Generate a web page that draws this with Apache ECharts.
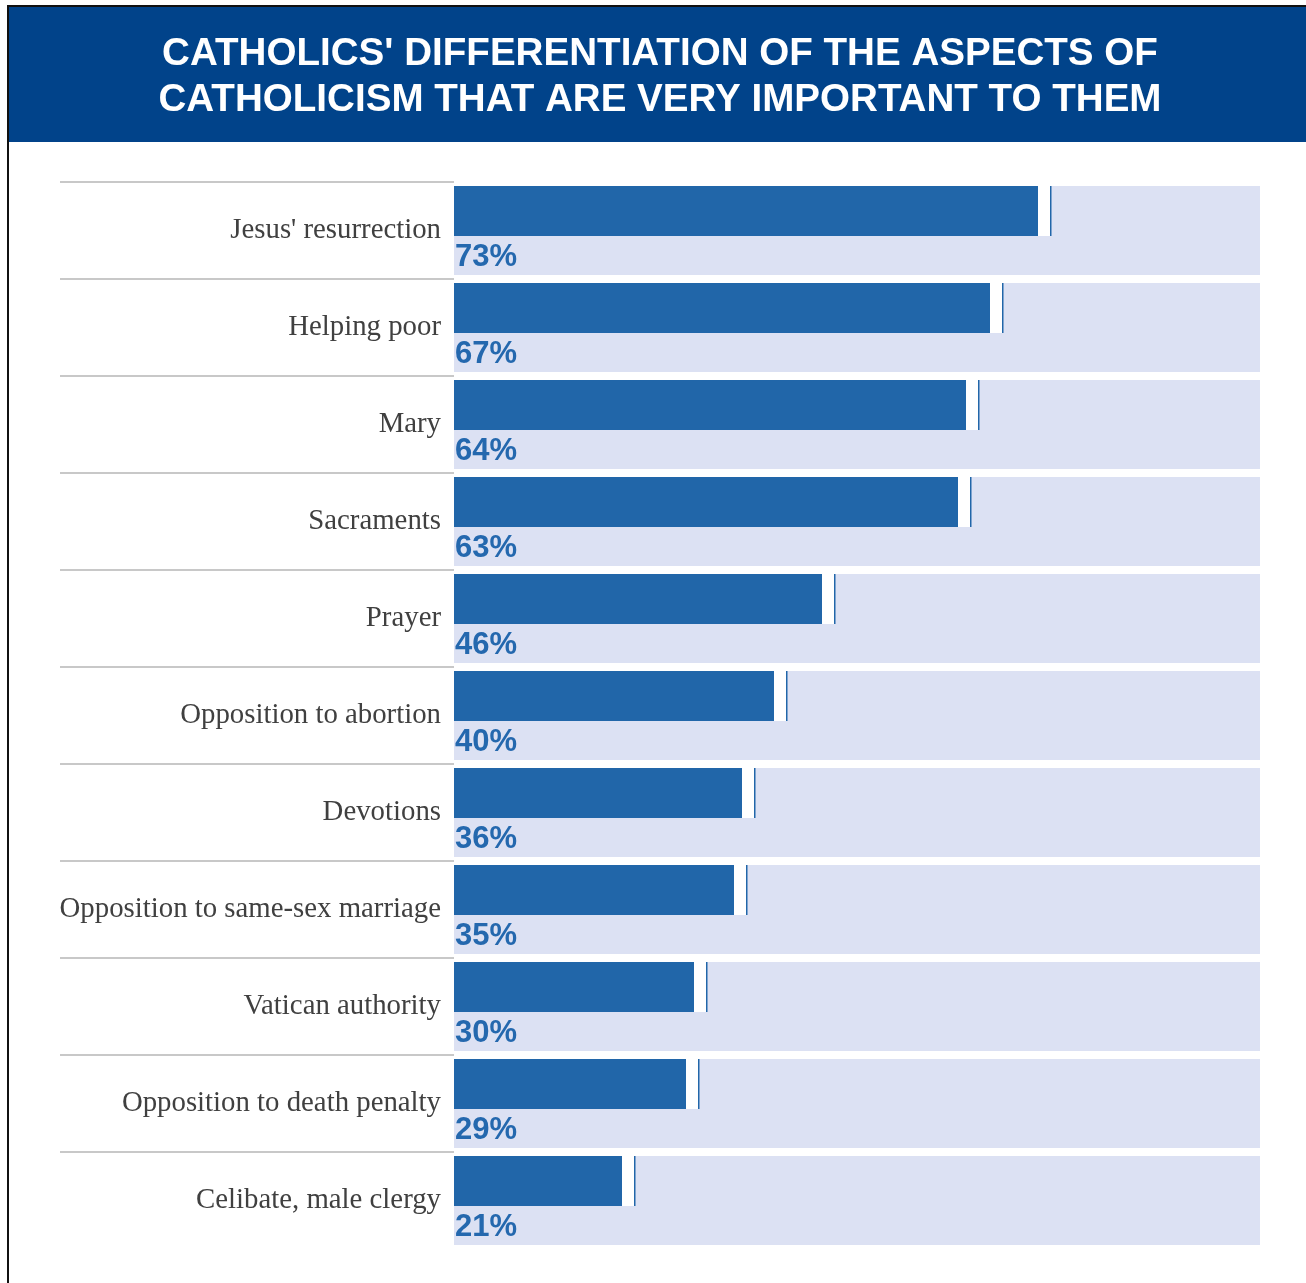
<!DOCTYPE html>
<html>
<head>
<meta charset="utf-8">
<script src="https://cdn.jsdelivr.net/npm/echarts@6/dist/echarts.min.js"></script>
<style>
  html, body { margin: 0; padding: 0; background: #ffffff; }
  #chart { width: 1306px; height: 1283px; }
</style>
</head>
<body>
<div id="chart"></div>
<script>
const titleLines = [
  "CATHOLICS' DIFFERENTIATION OF THE ASPECTS OF",
  "CATHOLICISM THAT ARE VERY IMPORTANT TO THEM"
];
const categories = [
  "Jesus' resurrection",
  "Helping poor",
  "Mary",
  "Sacraments",
  "Prayer",
  "Opposition to abortion",
  "Devotions",
  "Opposition to same-sex marriage",
  "Vatican authority",
  "Opposition to death penalty",
  "Celibate, male clergy"
];
const values = [73, 67, 64, 63, 46, 40, 36, 35, 30, 29, 21];

const DARK = '#2166a9';
const LIGHT = '#dce1f3';

const chart = echarts.init(document.getElementById('chart'), null, { renderer: 'canvas' });

function renderItem(params, api) {
  const cat = api.value(1);
  const val = api.value(0);
  const cs = params.coordSys;
  const p0 = api.coord([0, cat]);
  const p1 = api.coord([val, cat]);
  const band = api.size([0, 1])[1];
  const yTop = p0[1] - band / 2;
  const barTop = yTop + 4;
  const bgH = band - 8;
  const barH = 50;
  const barW = p1[0] - p0[0];
  return {
    type: 'group',
    children: [
      { type: 'line', shape: { x1: cs.x - 394, y1: yTop, x2: cs.x, y2: yTop },
        style: { stroke: '#c8c8c8', lineWidth: 2 } },
      { type: 'rect', shape: { x: cs.x, y: barTop, width: cs.width, height: bgH },
        style: { fill: LIGHT } },
      { type: 'rect', shape: { x: p1[0], y: barTop, width: 12, height: barH },
        style: { fill: '#ffffff' } },
      { type: 'rect', shape: { x: p1[0] + 12, y: barTop, width: 1.5, height: barH },
        style: { fill: DARK } },
      { type: 'rect', shape: { x: p0[0], y: barTop, width: barW, height: barH },
        style: { fill: DARK } },
      { type: 'text', x: p0[0] + 1, y: barTop + barH + (bgH - barH) / 2 + 2,
        style: { text: val + '%', fill: '#2468ae', font: 'bold 31px "Liberation Sans", Arial, sans-serif',
                 textAlign: 'left', textVerticalAlign: 'middle' } }
    ]
  };
}

chart.setOption({
  animation: false,
  backgroundColor: '#ffffff',
  title: {
    text: titleLines.join('\n'),
    left: 660,
    top: 31,
    textAlign: 'center',
    padding: 0,
    textStyle: {
      color: '#ffffff',
      fontSize: 38.6,
      fontWeight: 'bold',
      fontFamily: '"Liberation Sans", Arial, sans-serif',
      lineHeight: 46,
      align: 'center'
    }
  },
  graphic: [
    { type: 'rect', z: 0, shape: { x: 8, y: 6, width: 1320, height: 1300 },
      style: { fill: 'none', stroke: '#111111', lineWidth: 2 } },
    { type: 'rect', z: 0, shape: { x: 9, y: 7, width: 1297, height: 135 },
      style: { fill: '#01438a' } }
  ],
  grid: { left: 454, top: 182, width: 806, height: 97 * categories.length, containLabel: false },
  xAxis: { type: 'value', min: 0, max: 100.75, show: false },
  yAxis: {
    type: 'category',
    data: categories,
    inverse: true,
    axisLine: { show: false },
    axisTick: { show: false },
    splitLine: { show: false },
    axisLabel: {
      margin: 13,
      color: '#404040',
      fontSize: 28.8,
      fontFamily: '"Liberation Serif", "Times New Roman", serif',
      align: 'right',
      padding: [2, 0, 0, 0]
    }
  },
  series: [{
    type: 'custom',
    renderItem: renderItem,
    clip: false,
    encode: { x: 0, y: 1 },
    data: values.map((v, i) => [v, categories[i]])
  }]
});
</script>
</body>
</html>
